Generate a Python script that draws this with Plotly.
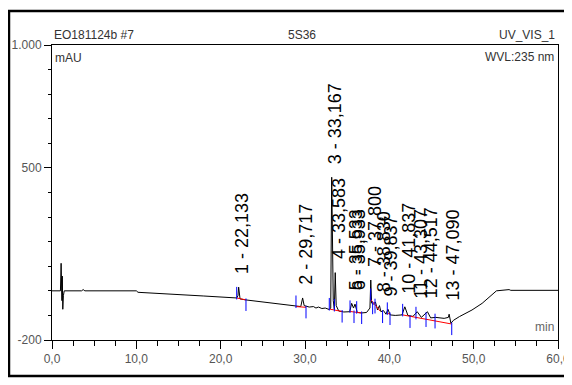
import plotly.graph_objects as go

# ---------------- data ----------------
sig_t = [-0.8, 1.0, 1.08, 1.12, 1.15, 1.18, 1.22, 1.28, 1.35, 1.45, 3.5, 3.7, 3.9, 7.0, 7.2, 7.5, 7.8, 8.0,
         10.0, 10.2, 14.0, 18.0, 21.9, 22.05, 22.133, 22.3, 23.0, 25.0, 28.9, 29.5, 29.717, 29.9, 30.5,
         31.0, 31.3, 31.6, 32.0, 32.4, 32.88, 33.05, 33.167, 33.25, 33.35, 33.48, 33.583, 33.7, 34.0, 34.6,
         35.3, 35.533, 35.75, 35.933, 36.2, 36.7, 37.3, 37.7, 37.8, 37.9, 38.1, 38.35, 38.6, 38.83, 39.0,
         39.3, 39.6, 39.837, 40.1, 40.7, 41.5, 41.837, 42.2, 42.8, 43.307, 43.8, 44.517, 44.9, 45.5, 46.5,
         47.0, 47.09, 47.3, 47.6, 48.3, 49.8, 51.0, 52.7, 54.0, 54.2, 54.4, 60.0]
sig_v = [0, 0, 112, -30, 105, -40, 60, -75, -20, 0, 0, 5, 0, 0, 2, 0, 2, 0,
         0, -6, -12, -21, -29, -20, 15, -33, -37, -45, -62, -64, -29, -60, -66,
         -64, -70, -66, -72, -70, -76, -70, 462, 180, -40, -75, 74, -60, -82, -86,
         -85, -51, -70, -54, -88, -90, -88, -70, 44, -50, -55, -45, -78, -60, -85,
         -80, -95, -75, -98, -100, -98, -65, -100, -104, -85, -108, -85, -110, -108, -112,
         -108, -95, -132, -120, -105, -78, -51, 0, 2, 5, 2, 2]

peak_no = [1, 2, 3, 4, 5, 6, 7, 8, 9, 10, 11, 12, 13]
peak_rt = [22.133, 29.717, 33.167, 33.583, 35.533, 35.933, 37.800, 38.830, 39.837, 41.837, 43.307, 44.517, 47.090]
peak_rt_text = ["22,133", "29,717", "33,167", "33,583", "35,533", "35,933", "37,800", "38,830",
                "39,837", "41,837", "43,307", "44,517", "47,090"]
peak_top = [15, -29, 462, 74, -51, -54, 44, -60, -75, -65, -85, -85, -95]

# integration baselines (red)
base_t0 = [21.90, 28.93, 32.88, 35.34, 37.79, 39.76, 41.58]
base_v0 = [-29, -64, -74, -84, -35, -92, -98]
base_t1 = [23.00, 30.12, 34.40, 36.72, 38.90, 40.08, 47.40]
base_v1 = [-37, -67, -84, -90, -82, -94, -135]

# peak delimiters (blue): time, level, direction (+1 up, -1 down, 0 both)
bnd_t = [21.90, 23.00, 28.93, 30.12, 32.88, 33.48, 34.40, 35.34, 35.81, 36.13, 36.72, 37.79, 38.02,
         38.30, 39.20, 39.76, 40.08, 41.58, 42.45, 43.16, 44.35, 45.42, 47.40]
bnd_v = [-29, -37, -64, -67, -74, -78, -84, -84, -86, -87, -90, -35, -50,
         -62, -86, -92, -94, -98, -106, -110, -117, -123, -135]
bnd_dir = [1, -1, 1, -1, 1, 1, -1, 1, -1, 1, -1, 1, -1,
           0, -1, 1, -1, 1, -1, 1, 0, 0, -1]

x_ticks = [0, 10, 20, 30, 40, 50, 60]
x_tick_text = ["0,0", "10,0", "20,0", "30,0", "40,0", "50,0", "60,0"]
y_ticks = [-200, 500, 1000]
y_tick_text = ["-200", "500", "1.000"]

# ---------------- figure ----------------
SANS = "Liberation Sans, Arial, sans-serif"
fig = go.Figure()

fig.add_trace(go.Scatter(x=sig_t, y=sig_v, mode="lines",
                         line=dict(color="black", width=1), hoverinfo="skip", showlegend=False))

rx, ry = [], []
for a, b, c, d in zip(base_t0, base_v0, base_t1, base_v1):
    rx += [a, c, None]
    ry += [b, d, None]
fig.add_trace(go.Scatter(x=rx, y=ry, mode="lines", line=dict(color="#ff0000", width=1),
                         hoverinfo="skip", showlegend=False))

BL = 45
bx, by = [], []
for t, v, d in zip(bnd_t, bnd_v, bnd_dir):
    if d > 0:
        y0, y1 = v - 6, v + BL
    elif d < 0:
        y0, y1 = v + 6, v - BL
    else:
        y0, y1 = v + 30, v - 30
    bx += [t, t, None]
    by += [y0, y1, None]
fig.add_trace(go.Scatter(x=bx, y=by, mode="lines", line=dict(color="#0000ff", width=1),
                         hoverinfo="skip", showlegend=False))

for n, rt, txt, top in zip(peak_no, peak_rt, peak_rt_text, peak_top):
    fig.add_annotation(x=rt, y=top + 50, xref="x", yref="y", text=f"{n} - {txt}",
                       textangle=-90, showarrow=False, xanchor="center", yanchor="bottom",
                       xshift=4, borderpad=0, font=dict(family=SANS, size=18, color="black"))

hdr = dict(family=SANS, size=12, color="#333333")
fig.add_annotation(x=0, y=1.034, xref="paper", yref="paper", text="EO181124b #7", showarrow=False,
                   xanchor="left", yanchor="middle", font=hdr)
fig.add_annotation(x=0.494, y=1.034, xref="paper", yref="paper", text="5S36", showarrow=False,
                   xanchor="center", yanchor="middle", font=hdr)
fig.add_annotation(x=0.998, y=1.034, xref="paper", yref="paper", text="UV_VIS_1", showarrow=False,
                   xanchor="right", yanchor="middle", font=hdr)
fig.add_annotation(x=0.002, y=0.955, xref="paper", yref="paper", text="mAU", showarrow=False,
                   xanchor="left", yanchor="middle", font=hdr)
fig.add_annotation(x=0.996, y=0.958, xref="paper", yref="paper", text="WVL:235 nm", showarrow=False,
                   xanchor="right", yanchor="middle", font=hdr)
fig.add_annotation(x=0.996, y=0.045, xref="paper", yref="paper", text="min", showarrow=False,
                   xanchor="right", yanchor="middle", font=dict(family=SANS, size=12, color="#666666"))

# outer frame
fig.add_shape(type="rect", xref="paper", yref="paper", x0=-0.085, x1=1.0185, y0=-0.122, y1=1.1153,
              line=dict(color="black", width=2.5), fillcolor="rgba(0,0,0,0)", layer="below")

tickfont = dict(family=SANS, size=12, color="#555555")
fig.update_xaxes(range=[0, 60], tickvals=x_ticks, ticktext=x_tick_text, ticks="outside", ticklen=8,
                 tickcolor="black", showline=True, linecolor="black", linewidth=1, mirror=True,
                 showgrid=False, zeroline=False, tickfont=tickfont, automargin=False,
                 minor=dict(tickvals=[v * 2.5 for v in range(25)], ticks="outside", ticklen=5,
                            tickcolor="black", showgrid=False))
fig.update_yaxes(range=[-200, 1000], tickvals=y_ticks, ticktext=y_tick_text, ticks="outside", ticklen=7,
                 tickcolor="black", showline=True, linecolor="black", linewidth=1, mirror=True,
                 showgrid=False, zeroline=False, tickfont=tickfont, automargin=False,
                 minor=dict(tickvals=list(range(-200, 1001, 100)), ticks="outside", ticklen=3,
                            tickcolor="black", showgrid=False))

# page body has an 8 px margin, so margins are offset to land the plot area where the reference has it
fig.update_layout(width=572, height=385, margin=dict(l=44, r=22, t=37, b=53, autoexpand=False),
                  plot_bgcolor="white", paper_bgcolor="white", showlegend=False)

fig.write_html("out.html")
